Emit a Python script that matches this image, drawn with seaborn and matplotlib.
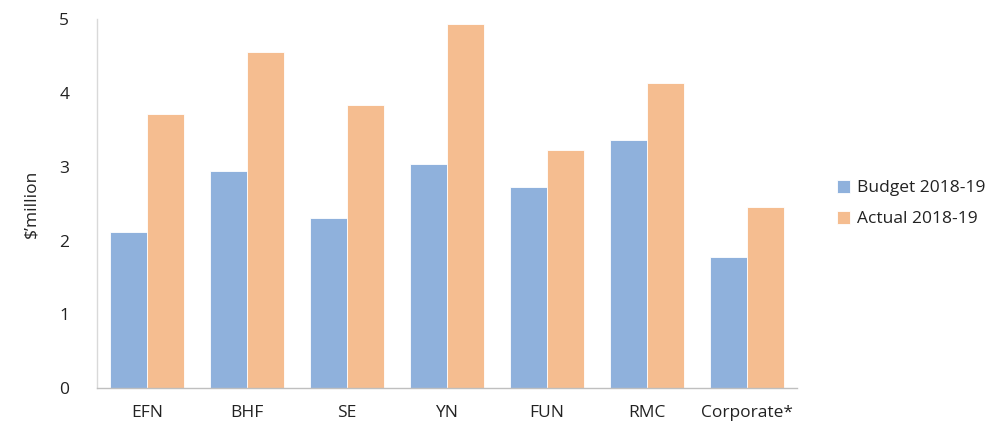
import matplotlib
matplotlib.use("Agg")
import matplotlib.pyplot as plt
import seaborn as sns
import pandas as pd

categories = ["EFN", "BHF", "SE", "YN", "FUN", "RMC", "Corporate*"]
budget = [2.12, 2.94, 2.30, 3.04, 2.73, 3.36, 1.77]
actual = [3.71, 4.55, 3.83, 4.94, 3.23, 4.14, 2.45]
series_names = ["Budget 2018-19", "Actual 2018-19"]
y_ticks = [0, 1, 2, 3, 4, 5]

sns.set_theme(style="white")
plt.rcParams["font.family"] = ["Open Sans", "DejaVu Sans"]

df = pd.DataFrame({
    "category": categories * 2,
    "value": budget + actual,
    "series": [series_names[0]] * len(categories) + [series_names[1]] * len(categories),
})

fig = plt.figure(figsize=(9.95, 4.26), dpi=100)
ax = fig.add_axes([0.0975, 0.089, 0.7035, 0.866])

palette = {series_names[0]: "#8FB1DC", series_names[1]: "#F5BD90"}
sns.barplot(data=df, x="category", y="value", hue="series", palette=palette,
            width=0.74, saturation=1, edgecolor="#FFFFFF", linewidth=0.6,
            ax=ax, errorbar=None)

fs = 12.5
ax.set_ylim(0, 5)
ax.set_yticks(y_ticks)
ax.set_xlim(-0.5, len(categories) - 0.5)
ax.set_xlabel("")
ax.set_ylabel("$\u2019million", fontsize=fs, color="#222222")
ax.yaxis.set_label_coords(-0.082, 0.5)
ax.tick_params(axis="both", length=0, labelsize=fs, colors="#222222")
ax.tick_params(axis="x", pad=12)
ax.tick_params(axis="y", pad=20)

for s in ["top", "right"]:
    ax.spines[s].set_visible(False)
ax.spines["left"].set_color("#D9D9D9")
ax.spines["bottom"].set_color("#BFBFBF")
ax.spines["left"].set_linewidth(1.0)
ax.spines["bottom"].set_linewidth(1.0)

handles, labels = ax.get_legend_handles_labels()
ax.legend(handles, labels, loc="center left", bbox_to_anchor=(1.035, 0.5),
          frameon=False, fontsize=fs, handlelength=0.75, handleheight=0.75,
          handletextpad=0.4, labelspacing=0.85, labelcolor="#222222")

fig.savefig("out.png", dpi=100)
